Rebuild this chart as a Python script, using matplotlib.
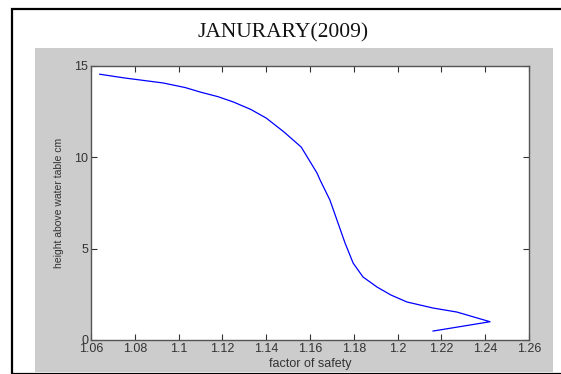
import matplotlib.pyplot as plt
from matplotlib.patches import Rectangle

# factor of safety vs height above water table
factor_of_safety = [1.064, 1.075, 1.093, 1.103, 1.110, 1.118, 1.125, 1.133,
                    1.140, 1.148, 1.156, 1.1632, 1.1646, 1.1691, 1.1723,
                    1.176, 1.1797, 1.1842, 1.1906, 1.197, 1.2043, 1.2162,
                    1.2271, 1.2422, 1.2162]
height_cm = [14.55, 14.35, 14.07, 13.82, 13.57, 13.32, 13.03, 12.62,
             12.15, 11.4, 10.56, 9.14, 8.76, 7.66, 6.57,
             5.31, 4.21, 3.45, 2.9, 2.46, 2.08, 1.75,
             1.53, 1.0, 0.49]

x_ticks = [1.06, 1.08, 1.1, 1.12, 1.14, 1.16, 1.18, 1.2, 1.22, 1.24, 1.26]
x_ticklabels = ["1.06", "1.08", "1.1", "1.12", "1.14", "1.16", "1.18",
                "1.2", "1.22", "1.24", "1.26"]
y_ticks = [0, 5, 10, 15]

W, H = 561, 374
fig = plt.figure(figsize=(W / 100, H / 100), dpi=100)
fig.patch.set_facecolor("white")

# outer frame of the document figure
fig.add_artist(Rectangle((11.5 / W, 0), 1.0, 1 - 8.5 / H, transform=fig.transFigure,
                         fill=False, edgecolor="black", linewidth=1.6, zorder=0))
# grey MATLAB figure background
fig.add_artist(Rectangle((35 / W, 2 / H), (553 - 35) / W, (372 - 48) / H,
                         transform=fig.transFigure, facecolor="#cccccc",
                         edgecolor="none", zorder=0))

fig.text(283 / W, 1 - 33 / H, "JANURARY(2009)", ha="center", va="center",
         family="Liberation Serif", fontsize=15.5, color="#111111")

ax = fig.add_axes([91 / W, 1 - 340 / H, (529 - 91) / W, (340 - 66) / H])
ax.plot(factor_of_safety, height_cm, color="#0000ff", linewidth=0.9)

ax.set_xlim(1.06, 1.26)
ax.set_ylim(0, 15)
ax.set_xticks(x_ticks)
ax.set_xticklabels(x_ticklabels)
ax.set_yticks(y_ticks)

for lab in ax.get_xticklabels() + ax.get_yticklabels():
    lab.set_fontfamily("Liberation Sans")
    lab.set_fontsize(9)
    lab.set_color("#333333")

ax.tick_params(direction="in", top=True, right=True, length=4, width=0.8,
               color="#333333", pad=2)
for sp in ax.spines.values():
    sp.set_color("#555555")
    sp.set_linewidth(1.0)

ax.set_xlabel("factor of safety", labelpad=2, color="#333333",
              family="Liberation Sans", fontsize=9)
ax.set_ylabel("height above water table cm", labelpad=7, color="#333333",
              family="Liberation Sans", fontsize=7.5)

fig.savefig("out.png", dpi=100)
